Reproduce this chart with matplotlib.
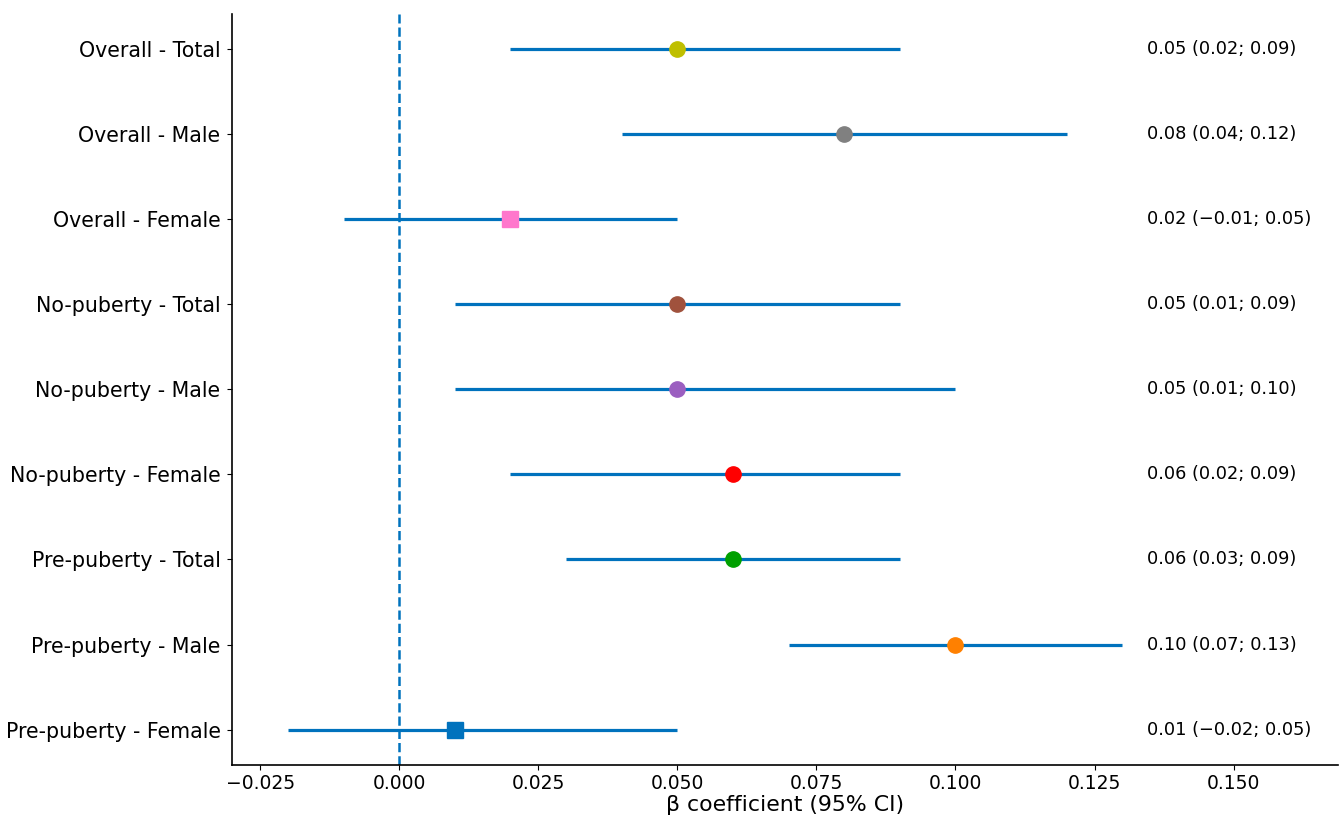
import matplotlib
matplotlib.use("Agg")
import matplotlib.pyplot as plt

labels = ['Overall - Total', 'Overall - Male', 'Overall - Female',
          'No-puberty - Total', 'No-puberty - Male', 'No-puberty - Female',
          'Pre-puberty - Total', 'Pre-puberty - Male', 'Pre-puberty - Female']
beta = [0.05, 0.08, 0.02, 0.05, 0.05, 0.06, 0.06, 0.10, 0.01]
lower = [0.02, 0.04, -0.01, 0.01, 0.01, 0.02, 0.03, 0.07, -0.02]
upper = [0.09, 0.12, 0.05, 0.09, 0.10, 0.09, 0.09, 0.13, 0.05]
ci_text = ['0.05 (0.02; 0.09)', '0.08 (0.04; 0.12)', '0.02 (\u22120.01; 0.05)',
           '0.05 (0.01; 0.09)', '0.05 (0.01; 0.10)', '0.06 (0.02; 0.09)',
           '0.06 (0.03; 0.09)', '0.10 (0.07; 0.13)', '0.01 (\u22120.02; 0.05)']
colors = ['#bfbf00', 'gray', '#ff77cc', '#a0523d', '#9b5fc0', 'red',
          '#00a000', '#ff8000', '#0072bd']
markers = ['o', 'o', 's', 'o', 'o', 'o', 'o', 'o', 's']

line_col = '#0072bd'

fig = plt.figure(figsize=(13.43, 8.31), dpi=100)
ax = fig.add_axes([0.173, 0.08, 0.823, 0.903])

n = len(labels)
ypos = [n - 1 - i for i in range(n)]

for i in range(n):
    ax.hlines(ypos[i], lower[i], upper[i], color=line_col, linewidth=2.3, zorder=2)
    ax.plot(beta[i], ypos[i], marker=markers[i], color=colors[i],
            markersize=11, linestyle='none', zorder=3)
    ax.text(0.1345, ypos[i], ci_text[i], va='center', ha='left', fontsize=12.8)

ax.axvline(0, color=line_col, linestyle='--', linewidth=1.8, zorder=1)

ax.set_yticks(ypos)
ax.set_yticklabels(labels, fontsize=14.8)
ax.tick_params(axis='y', pad=5)
ax.tick_params(axis='x', labelsize=13.5)
ax.set_xticks([-0.025, 0.0, 0.025, 0.05, 0.075, 0.1, 0.125, 0.15])
ax.set_xlim(-0.030, 0.1687)
ax.set_ylim(-0.41, n - 1 + 0.41)
ax.set_xlabel('\u03b2 coefficient (95% CI)', fontsize=15.8, labelpad=1)
ax.spines['top'].set_visible(False)
ax.spines['right'].set_visible(False)
ax.spines['left'].set_linewidth(1.2)
ax.spines['bottom'].set_linewidth(1.2)

fig.savefig('out.png', dpi=100)
